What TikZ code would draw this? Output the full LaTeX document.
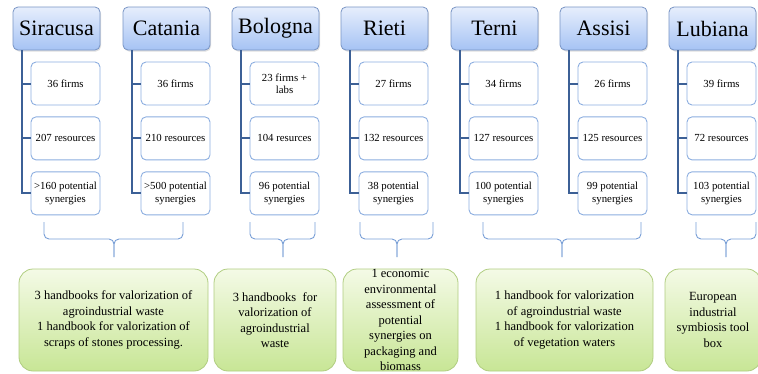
\documentclass[tikz,border=0pt]{standalone}
\usepackage{fontspec}
\setmainfont{Liberation Serif}
\usetikzlibrary{positioning, shadows}
\definecolor{citytop}{RGB}{230, 238, 252}
\definecolor{citybot}{RGB}{166, 195, 244}
\definecolor{citystroke}{RGB}{120, 148, 196}
\definecolor{factstroke}{RGB}{140, 174, 224}
\definecolor{treecol}{RGB}{60, 96, 150}
\definecolor{bracecol}{RGB}{120, 158, 214}
\definecolor{restop}{RGB}{244, 250, 230}
\definecolor{resbot}{RGB}{200, 230, 150}
\definecolor{resstroke}{RGB}{176, 205, 128}
\tikzset{
  % city headers (blue, shaded)
  city/.style={
    rectangle, rounded corners=5pt, draw=citystroke, line width=0.8pt,
    top color=citytop, bottom color=citybot,
    minimum width=87pt, minimum height=43pt, inner sep=0pt,
    font=\fontsize{22}{24}\selectfont,
    drop shadow={opacity=0.25, shadow xshift=1pt, shadow yshift=-1.5pt}
  },
  % white boxes with the numbers of each city
  fact/.style={
    rectangle, rounded corners=5pt, draw=factstroke, line width=0.9pt,
    fill=white, minimum width=69pt, minimum height=43pt, inner sep=1pt,
    align=center, font=\fontsize{10.8}{12.5}\selectfont
  },
  % green result boxes
  result/.style={
    rectangle, rounded corners=14pt, draw=resstroke, line width=0.8pt,
    top color=restop, bottom color=resbot,
    minimum height=102pt, inner sep=0pt,
    align=center, font=\fontsize{12.5}{15.5}\selectfont
  },
  % tree lines and braces
  tree/.style={draw=treecol, line width=2pt},
  brace/.style={draw=bracecol, line width=0.9pt, rounded corners=5pt},
}

\begin{document}
\begin{tikzpicture}[x=1pt, y=-1pt]
  \useasboundingbox (0,0) rectangle (758,373);
  \clip (0,0) rectangle (758,373);

  %% ── City headers ──────────────────────────────────────────────────────────
  \node[city] (sir) at (56.5, 28.5)  {Siracusa};
  \node[city] (cat) at (166.5, 28.5) {Catania};
  \node[city] (bol) at (275.5, 28.5) {Bologna};
  \node[city] (rie) at (384.5, 28.5) {Rieti};
  \node[city] (ter) at (494.5, 28.5) {Terni};
  \node[city] (ass) at (603.5, 28.5) {Assisi};
  \node[city] (lub) at (712.5, 28.5) {Lubiana};

  %% ── Facts per city ────────────────────────────────────────────────────────
  \node[fact] (sir1) at (65.5, 83.5) {36 firms};
  \node[fact, below=11pt of sir1] (sir2) {207 resources};
  \node[fact, below=11pt of sir2] (sir3) {>160 potential\\synergies};

  \node[fact] (cat1) at (175.5, 83.5) {36 firms};
  \node[fact, below=11pt of cat1] (cat2) {210 resources};
  \node[fact, below=11pt of cat2] (cat3) {>500 potential\\synergies};

  \node[fact] (bol1) at (284.5, 83.5) {23 firms +\\labs};
  \node[fact, below=11pt of bol1] (bol2) {104 resurces};
  \node[fact, below=11pt of bol2] (bol3) {96 potential\\synergies};

  \node[fact] (rie1) at (393.5, 83.5) {27 firms};
  \node[fact, below=11pt of rie1] (rie2) {132 resources};
  \node[fact, below=11pt of rie2] (rie3) {38 potential\\synergies};

  \node[fact] (ter1) at (503.5, 83.5) {34 firms};
  \node[fact, below=11pt of ter1] (ter2) {127 resources};
  \node[fact, below=11pt of ter2] (ter3) {100 potential\\synergies};

  \node[fact] (ass1) at (612.5, 83.5) {26 firms};
  \node[fact, below=11pt of ass1] (ass2) {125 resources};
  \node[fact, below=11pt of ass2] (ass3) {99 potential\\synergies};

  \node[fact] (lub1) at (721.5, 83.5) {39 firms};
  \node[fact, below=11pt of lub1] (lub2) {72 resources};
  \node[fact, below=11pt of lub2] (lub3) {103 potential\\synergies};

  %% ── Tree lines ────────────────────────────────────────────────────────────
  \foreach \c in {sir, cat, bol, rie, ter, ass, lub} {
    \foreach \k in {3, 2, 1}
      \draw[tree] ([xshift=9pt]\c.south west) |- (\c\k.west);
  }

  %% ── Results ───────────────────────────────────────────────────────────────
  \node[result, minimum width=189pt] (res1) at (113.5, 320)
    {3 handbooks for valorization of\\agroindustrial waste\\
     1 handbook for valorization of\\scraps of stones processing.};
  \node[result, minimum width=122pt] (res2) at (275, 320)
    {3 handbooks\ \ for\\valorization of\\agroindustrial\\waste};
  \node[result, minimum width=115pt] (res3) at (400.5, 320)
    {1 economic\\environmental\\assessment of\\potential\\synergies on\\packaging and\\biomass};
  \node[result, minimum width=177pt] (res4) at (564.5, 320)
    {1 handbook for valorization\\of agroindustrial waste\\
     1 handbook for valorization\\of vegetation waters};
  \node[result, minimum width=96pt] (res5) at (713, 320)
    {European\\industrial\\symbiosis tool\\box};

  %% ── Braces (ends and tips) ────────────────────────────────────────────────
  \coordinate (b1l) at (44, 222);  \coordinate (b1r) at (183, 222);  \coordinate (b1) at (114, 257);
  \coordinate (b2l) at (250, 222); \coordinate (b2r) at (315, 222);  \coordinate (b2) at (283, 257);
  \coordinate (b3l) at (360, 222); \coordinate (b3r) at (433, 222);  \coordinate (b3) at (397, 257);
  \coordinate (b4l) at (483, 222); \coordinate (b4r) at (641, 222);  \coordinate (b4) at (562, 257);
  \coordinate (b5l) at (696, 222); \coordinate (b5r) at (756, 222);  \coordinate (b5) at (726, 257);

  \foreach \b in {b1, b2, b3, b4, b5} {
    \draw[brace] (\b l) |- ([yshift=18pt]\b) -- (\b);
    \draw[brace] (\b r) |- ([yshift=18pt]\b) -- (\b);
  }

\end{tikzpicture}
\end{document}
